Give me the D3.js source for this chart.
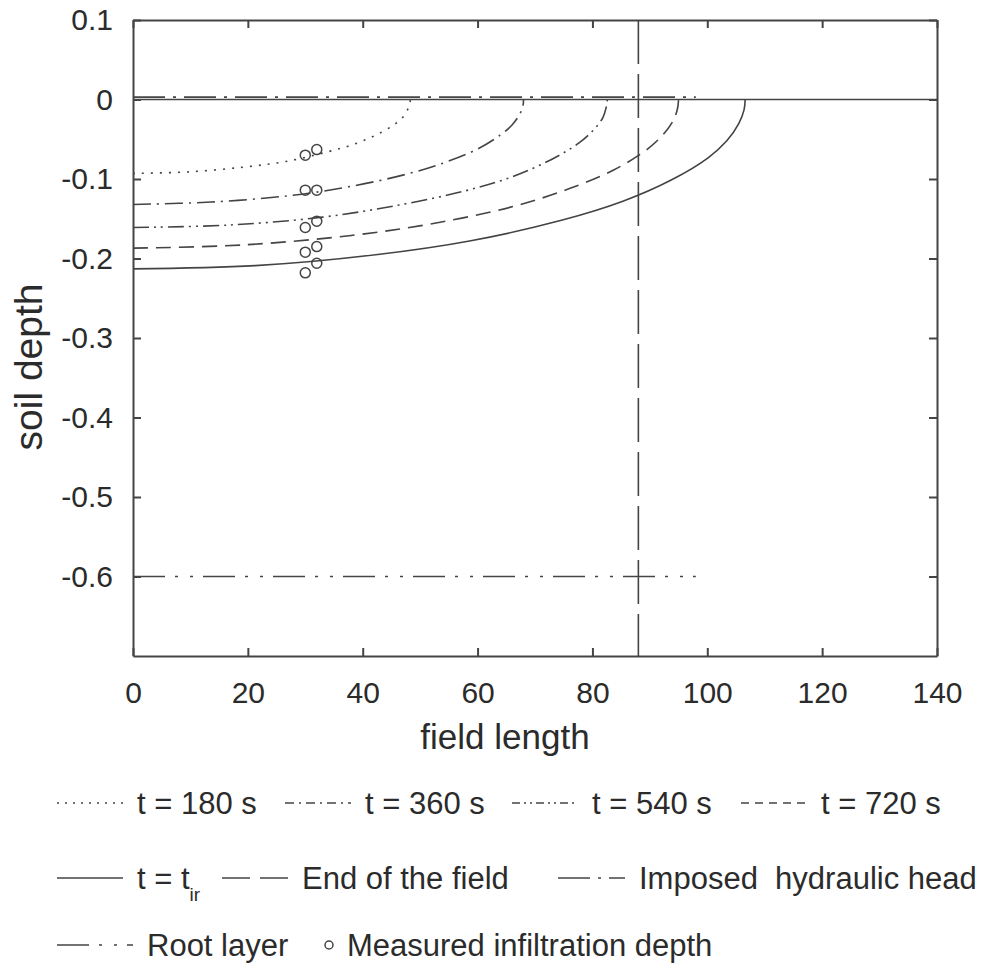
<!DOCTYPE html>
<html>
<head>
<meta charset="utf-8">
<script src="https://cdn.jsdelivr.net/npm/d3@7"></script>
<style>
  body { margin: 0; background: #fff; }
  svg { display: block; font-family: "Liberation Sans", Arial, sans-serif; }
  .axis path, .axis line { stroke: #444; stroke-width: 2; }
  .axis text { fill: #2b2b2b; font-size: 30px; }
</style>
</head>
<body>
<div id="vis"></div>
<script>
const FRAME_WIDTH = 992;
const FRAME_HEIGHT = 970;
const MARGINS = {left: 133, right: 55, top: 20, bottom: 314};

const VIS_WIDTH = FRAME_WIDTH - MARGINS.left - MARGINS.right;
const VIS_HEIGHT = FRAME_HEIGHT - MARGINS.top - MARGINS.bottom;

// tick labels
const xTicks = [0, 20, 40, 60, 80, 100, 120, 140];
const yTicks = [0.1, 0, -0.1, -0.2, -0.3, -0.4, -0.5, -0.6];

// wetting fronts [field length, soil depth]
const front180 = [[0, -0.093], [9.7, -0.091], [19.3, -0.085], [26.6, -0.078], [33.8, -0.066], [38.6, -0.056],
                  [42.5, -0.044], [45.4, -0.032], [46.9, -0.023], [47.8, -0.013], [48.2, -0.006], [48.3, 0]];
const front360 = [[0, -0.132], [13.6, -0.129], [27.2, -0.121], [37.4, -0.110], [47.6, -0.094], [54.4, -0.079],
                  [59.8, -0.063], [63.9, -0.045], [66.0, -0.032], [67.3, -0.019], [67.9, -0.008], [68, 0]];
const front540 = [[0, -0.161], [16.5, -0.158], [33.0, -0.148], [45.4, -0.134], [57.8, -0.115], [66.1, -0.097],
                  [72.7, -0.076], [77.6, -0.055], [80.1, -0.039], [81.8, -0.023], [82.4, -0.010], [82.6, 0]];
const front720 = [[0, -0.187], [19, -0.183], [38, -0.171], [52.3, -0.156], [66.5, -0.134], [76, -0.112],
                  [83.6, -0.089], [89.3, -0.064], [92.2, -0.045], [94.1, -0.026], [94.8, -0.012], [95, 0]];
const frontTir = [[0, -0.213], [21.3, -0.209], [42.6, -0.195], [58.6, -0.178], [74.6, -0.152], [85.3, -0.128],
                  [93.8, -0.101], [100.2, -0.073], [103.4, -0.052], [105.5, -0.030], [106.4, -0.013], [106.6, 0]];

// measured infiltration depth
const measuredX = [30, 32, 30, 32, 32, 30, 32, 30, 32, 30];
const measuredY = [-0.070, -0.063, -0.114, -0.114, -0.153, -0.161, -0.185, -0.192, -0.206, -0.218];

// reference lines
const fieldEnd = 88;
const imposedHead = 0.003;
const rootLayer = -0.6;
const refLineEnd = 98;

const FRAME = d3.select('#vis')
  .append('svg')
    .attr('width', FRAME_WIDTH)
    .attr('height', FRAME_HEIGHT);

const X_SCALE = d3.scaleLinear().domain([0, 140]).range([0, VIS_WIDTH]);
const Y_SCALE = d3.scaleLinear().domain([-0.7, 0.1]).range([VIS_HEIGHT, 0]);

const plot = FRAME.append('g')
  .attr('transform', 'translate(' + MARGINS.left + ',' + MARGINS.top + ')');

// axes, ticks point inward
plot.append('g').attr('class', 'axis')
  .attr('transform', 'translate(0,' + VIS_HEIGHT + ')')
  .call(d3.axisBottom(X_SCALE).tickValues(xTicks).tickSizeInner(-8).tickSizeOuter(0)
        .tickPadding(26).tickFormat(d => String(d)));
plot.append('g').attr('class', 'axis')
  .call(d3.axisLeft(Y_SCALE).tickValues(yTicks).tickSizeInner(-8).tickSizeOuter(0)
        .tickPadding(20).tickFormat(d => String(d)));
plot.append('g').attr('class', 'axis')
  .call(d3.axisTop(X_SCALE).tickValues(xTicks).tickSizeInner(-8).tickSizeOuter(0).tickFormat(''));
plot.append('g').attr('class', 'axis')
  .attr('transform', 'translate(' + VIS_WIDTH + ',0)')
  .call(d3.axisRight(Y_SCALE).tickValues(yTicks).tickSizeInner(-8).tickSizeOuter(0).tickFormat(''));

// soil surface
plot.append('line')
  .attr('x1', X_SCALE(0)).attr('x2', X_SCALE(140))
  .attr('y1', Y_SCALE(0)).attr('y2', Y_SCALE(0))
  .attr('stroke', '#444').attr('stroke-width', 1.6);

// patterns
const DASH = {
  t180: '2,7',
  t360: '18,6,2,6',
  t540: '16,5,2,5,2,5',
  t720: '15,8',
  tir: null,
  end: '44,10',
  head: '32,8,3,8',
  root: '32,10,3,12,3,10'
};

const line = d3.line()
  .x(d => X_SCALE(d[0]))
  .y(d => Y_SCALE(d[1]))
  .curve(d3.curveCatmullRom.alpha(0.5));

const fronts = [[front180, 't180'], [front360, 't360'], [front540, 't540'], [front720, 't720'], [frontTir, 'tir']];
fronts.forEach(([pts, key]) => {
  plot.append('path')
    .datum(pts)
    .attr('d', line)
    .attr('fill', 'none')
    .attr('stroke', '#444')
    .attr('stroke-width', 1.6)
    .attr('stroke-dasharray', DASH[key]);
});

// imposed hydraulic head
plot.append('line')
  .attr('x1', X_SCALE(0)).attr('x2', X_SCALE(refLineEnd))
  .attr('y1', Y_SCALE(imposedHead)).attr('y2', Y_SCALE(imposedHead))
  .attr('stroke', '#444').attr('stroke-width', 1.6)
  .attr('stroke-dasharray', DASH.head);

// root layer
plot.append('line')
  .attr('x1', X_SCALE(0)).attr('x2', X_SCALE(refLineEnd))
  .attr('y1', Y_SCALE(rootLayer)).attr('y2', Y_SCALE(rootLayer))
  .attr('stroke', '#444').attr('stroke-width', 1.6)
  .attr('stroke-dasharray', DASH.root);

// end of the field
plot.append('line')
  .attr('x1', X_SCALE(fieldEnd)).attr('x2', X_SCALE(fieldEnd))
  .attr('y1', Y_SCALE(0.1)).attr('y2', Y_SCALE(-0.7))
  .attr('stroke', '#444').attr('stroke-width', 1.6)
  .attr('stroke-dasharray', DASH.end);

// measured points
plot.selectAll('.meas')
  .data(measuredX)
  .enter()
  .append('circle')
    .attr('class', 'meas')
    .attr('cx', d => X_SCALE(d))
    .attr('cy', (d, i) => Y_SCALE(measuredY[i]))
    .attr('r', 5)
    .attr('fill', 'none')
    .attr('stroke', '#444')
    .attr('stroke-width', 1.5);

// axis titles
FRAME.append('text')
  .attr('x', 505).attr('y', 749)
  .attr('text-anchor', 'middle')
  .attr('font-size', 35).attr('fill', '#2b2b2b')
  .text('field length');
FRAME.append('text')
  .attr('transform', 'translate(42,367) rotate(-90)')
  .attr('text-anchor', 'middle')
  .attr('font-size', 39).attr('fill', '#2b2b2b')
  .text('soil depth');

// legend
const legendItems = [
  {key: 't180', label: 't = 180 s', x: 57, y: 803, len: 66},
  {key: 't360', label: 't = 360 s', x: 285, y: 803, len: 66},
  {key: 't540', label: 't = 540 s', x: 512, y: 803, len: 66},
  {key: 't720', label: 't = 720 s', x: 741, y: 803, len: 66},
  {key: 'tir', label: 't = t', sub: 'ir', x: 57, y: 878, len: 66},
  {key: 'end', label: 'End of the field', x: 222, y: 878, len: 66},
  {key: 'head', label: 'Imposed  hydraulic head', x: 558, y: 878, len: 67},
  {key: 'root', label: 'Root layer', x: 57, y: 945, len: 76},
  {key: 'meas', label: 'Measured infiltration depth', x: 325, y: 945, len: 8}
];
const LEG_DASH = {t180: '2,6', t360: '9,5,2,5', t540: '8,4,2,4,2,4', t720: '8,6', end: '28,10'};

const legend = FRAME.append('g');
legendItems.forEach(it => {
  if (it.key === 'meas') {
    legend.append('circle')
      .attr('cx', it.x + 4).attr('cy', it.y)
      .attr('r', 4).attr('fill', 'none')
      .attr('stroke', '#444').attr('stroke-width', 1.5);
  } else {
    legend.append('line')
      .attr('x1', it.x).attr('x2', it.x + it.len)
      .attr('y1', it.y).attr('y2', it.y)
      .attr('stroke', '#444').attr('stroke-width', 1.6)
      .attr('stroke-dasharray', LEG_DASH[it.key] || DASH[it.key]);
  }
  const t = legend.append('text')
    .attr('x', it.x + it.len + 14)
    .attr('y', it.y + 11)
    .attr('font-size', 31).attr('fill', '#2b2b2b')
    .attr('xml:space', 'preserve')
    .style('white-space', 'pre')
    .text(it.label);
  if (it.sub) {
    t.append('tspan')
      .attr('dy', 12)
      .attr('font-size', 19)
      .text(it.sub);
  }
});
</script>
</body>
</html>
